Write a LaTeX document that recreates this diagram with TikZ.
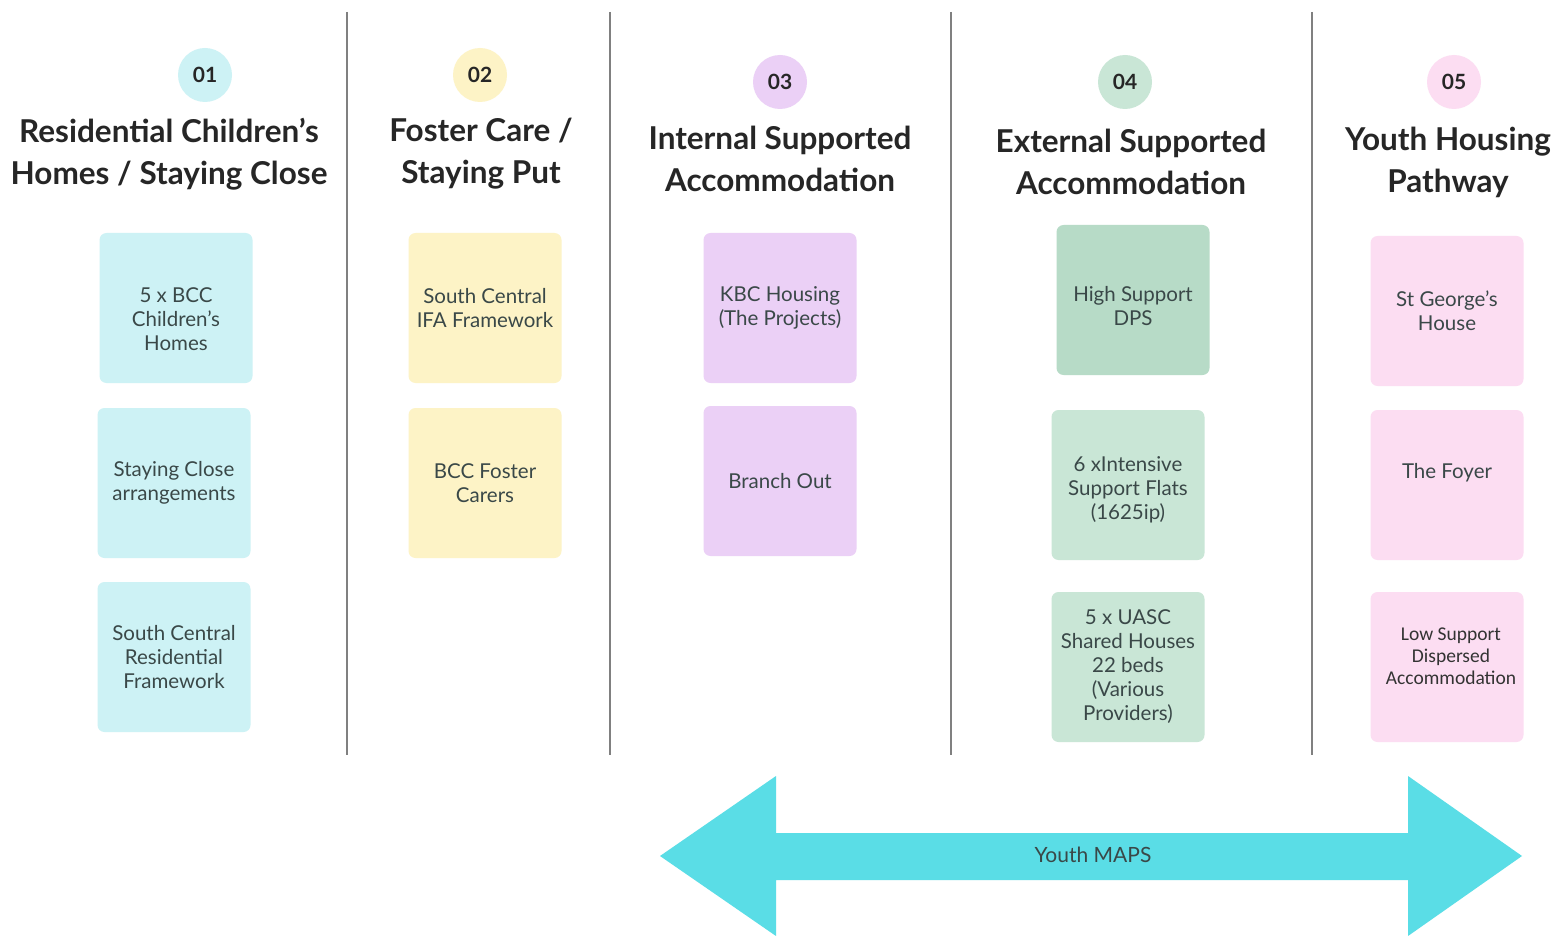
\documentclass[tikz,border=0pt]{standalone}
\usepackage{fontspec}
\setmainfont{Lato}
\newfontfamily\calib{Carlito}
\definecolor{cyanbox}{HTML}{CDF2F5}
\definecolor{yellbox}{HTML}{FDF3C6}
\definecolor{purpbox}{HTML}{EBD0F6}
\definecolor{greendk}{HTML}{B7DBC7}
\definecolor{greenbox}{HTML}{C9E6D6}
\definecolor{pinkbox}{HTML}{FCDDF2}
\definecolor{arrowcyan}{HTML}{5ADDE6}
\definecolor{boxtext}{HTML}{3A4848}
\tikzset{
  num/.style={circle,minimum size=54pt,inner sep=0pt,font=\fontsize{21}{21}\selectfont\bfseries,text=black!85},
  title/.style={align=center,font=\fontsize{31.5}{42}\selectfont\bfseries,text=black!85},
  celltext/.style={align=center,text=boxtext,font=\fontsize{20.5}{24}\selectfont},
  cell/.style={celltext,rounded corners=7pt,minimum width=153pt,minimum height=150pt,inner sep=2pt},
  sep/.style={draw=black!50,line width=2pt}
}
\begin{document}
\begin{tikzpicture}[x=1pt,y=-1pt]
   \useasboundingbox[fill=white] (0,0) rectangle (1558,936);
   % column separators
   \draw[sep] (347,12) -- (347,755);
   \draw[sep] (610,12) -- (610,755);
   \draw[sep] (951,12) -- (951,755);
   \draw[sep] (1312,12) -- (1312,755);
   % 01
   \node[num,fill=cyanbox] (c1) at (205,75) {01};
   \node[title] (t1) at (169,154) {Residential Children's\\Homes / Staying Close};
   \node[cell,fill=cyanbox] (b11) at (176,308) {};
   \node[celltext] at ([yshift=-11pt]b11) {5 x BCC\\Children's\\Homes};
   \node[cell,fill=cyanbox] (b12) at (174,483) {Staying Close\\arrangements};
   \node[cell,fill=cyanbox] (b13) at (174,657) {South Central\\Residential\\Framework};
   % 02
   \node[num,fill=yellbox] (c2) at (480,75) {02};
   \node[title] (t2) at (481,154) {Foster Care /\\Staying Put};
   \node[cell,fill=yellbox] (b21) at (485,308) {South Central\\IFA Framework};
   \node[cell,fill=yellbox] (b22) at (485,483) {BCC Foster\\Carers};
   % 03
   \node[num,fill=purpbox] (c3) at (780,82) {03};
   \node[title] (t3) at (780,159) {Internal Supported\\Accommodation};
   \node[cell,fill=purpbox] (b31) at (780,308) {KBC Housing\\(The Projects)};
   \node[cell,fill=purpbox] (b32) at (780,481) {Branch Out};
   % 04
   \node[num,fill=greenbox] (c4) at (1125,82) {04};
   \node[title] (t4) at (1131,162) {External Supported\\Accommodation};
   \node[cell,fill=greendk] (b41) at (1133,300) {};
   \node[celltext] at ([yshift=-6pt]b41) {High Support\\DPS};
   \node[cell,fill=greenbox] (b42) at (1128,485) {};
   \node[celltext] at ([yshift=-5pt]b42) {6 xIntensive\\Support Flats\\(1625ip)};
   \node[cell,fill=greenbox] (b43) at (1128,667) {5 x UASC\\Shared Houses\\22 beds\\(Various\\Providers)};
   % 05
   \node[num,fill=pinkbox] (c5) at (1454,82) {05};
   \node[title] (t5) at (1448,162) {Youth Housing\\Pathway};
   \node[cell,fill=pinkbox] (b51) at (1447,311) {St George's\\House};
   \node[cell,fill=pinkbox] (b52) at (1447,485) {};
   \node[celltext] at ([yshift=12pt]b52) {The Foyer};
   \node[cell,fill=pinkbox] (b53) at (1447,667) {};
   \node[celltext,font=\calib\fontsize{19.5}{22}\selectfont,text=black!80] at ([xshift=4pt,yshift=11pt]b53) {Low Support\\Dispersed\\Accommodation};
   % Youth MAPS arrow
   \fill[arrowcyan] (660,856) -- (776,776) -- (776,833) -- (1408,833) -- (1408,776) -- (1522,856)
      -- (1408,936) -- (1408,880) -- (776,880) -- (776,936) -- cycle;
   \node[text=boxtext,font=\fontsize{21}{24}\selectfont] (maps) at (1093,855) {Youth MAPS};
\end{tikzpicture}
\end{document}
